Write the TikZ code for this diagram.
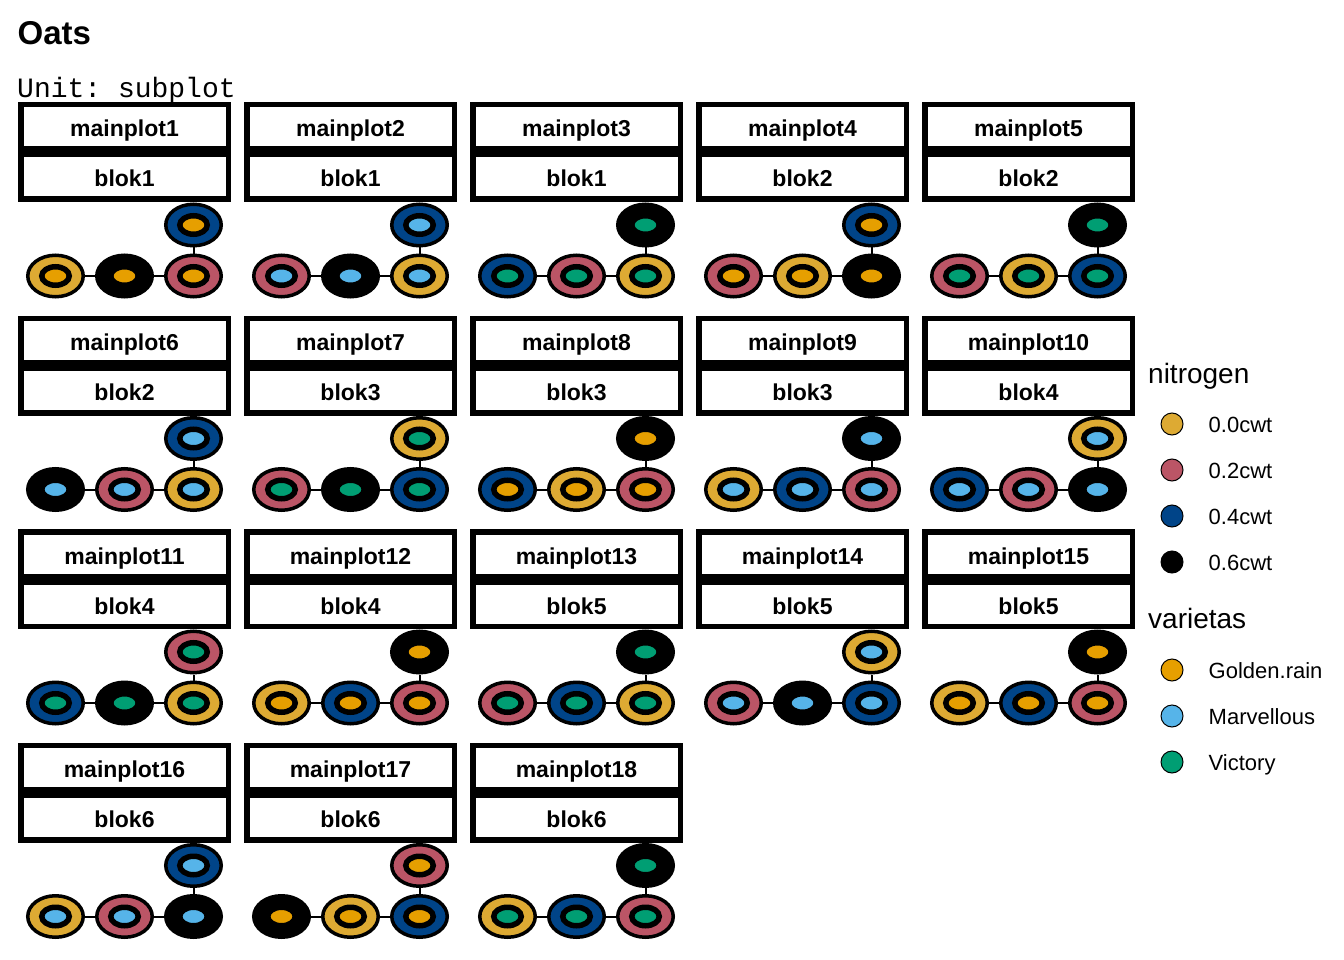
\documentclass[tikz,border=0pt]{standalone}
\usepackage{fontspec}
\setmainfont{Liberation Sans}
\setmonofont{Liberation Mono}
\usepackage{tikz}
\usetikzlibrary{positioning}
\usetikzlibrary{shapes.geometric}

\definecolor{cwt00}{HTML}{DDAA33}
\definecolor{cwt02}{HTML}{BB5566}
\definecolor{cwt04}{HTML}{004488}
\definecolor{cwt06}{HTML}{000000}
\definecolor{golden}{HTML}{E69F00}
\definecolor{marvellous}{HTML}{56B4E9}
\definecolor{victory}{HTML}{009E73}

\begin{document}
\begin{tikzpicture}[x=1pt,y=-1pt,node distance=69pt,
    strip/.style={rectangle,draw,line width=5.5pt,minimum width=207.5pt,minimum height=44.5pt,
                  inner sep=0pt,text height=20pt,text depth=0pt,font=\fontsize{23}{23}\selectfont\bfseries},
    plot node/.style={ellipse,draw,line width=3.5pt,minimum width=55.5pt,minimum height=41.5pt,inner sep=0pt},
    var node/.style={ellipse,draw,line width=5.5pt,minimum width=27.5pt,minimum height=18.5pt,inner sep=0pt},
    key node/.style={circle,draw,line width=1pt,minimum size=22pt,inner sep=0pt},
    key label/.style={inner sep=0pt,text height=16pt,text depth=0pt,font=\fontsize{22}{22}\selectfont},
    legend title/.style={anchor=base west,inner sep=0pt,font=\fontsize{28}{28}\selectfont}]

 \useasboundingbox (0,0) rectangle (1344,960);

 \node[anchor=base west,inner sep=0pt,font=\fontsize{33}{33}\selectfont\bfseries] (title) at (17.5,44.5) {Oats};
 \node[anchor=base west,inner sep=0pt,font=\fontsize{28}{28}\selectfont\ttfamily] (unit) at (17,98) {Unit: subplot};

 % panel / block / top, left, middle, right nitrogen / variety
 \foreach \i/\blok/\nT/\nL/\nM/\nR/\vr in {
    1/blok1/cwt04/cwt00/cwt06/cwt02/golden,
    2/blok1/cwt04/cwt02/cwt06/cwt00/marvellous,
    3/blok1/cwt06/cwt04/cwt02/cwt00/victory,
    4/blok2/cwt04/cwt02/cwt00/cwt06/golden,
    5/blok2/cwt06/cwt02/cwt00/cwt04/victory,
    6/blok2/cwt04/cwt06/cwt02/cwt00/marvellous,
    7/blok3/cwt00/cwt02/cwt06/cwt04/victory,
    8/blok3/cwt06/cwt04/cwt00/cwt02/golden,
    9/blok3/cwt06/cwt00/cwt04/cwt02/marvellous,
    10/blok4/cwt00/cwt04/cwt02/cwt06/marvellous,
    11/blok4/cwt02/cwt04/cwt06/cwt00/victory,
    12/blok4/cwt06/cwt00/cwt04/cwt02/golden,
    13/blok5/cwt06/cwt02/cwt04/cwt00/victory,
    14/blok5/cwt00/cwt02/cwt06/cwt04/marvellous,
    15/blok5/cwt06/cwt00/cwt04/cwt02/golden,
    16/blok6/cwt04/cwt00/cwt02/cwt06/marvellous,
    17/blok6/cwt02/cwt06/cwt00/cwt04/golden,
    18/blok6/cwt06/cwt00/cwt04/cwt02/victory} {
   \pgfmathsetmacro\px{124.5+226*mod(\i-1,5)}
   \pgfmathsetmacro\py{127+213.5*floor((\i-1)/5)}
   \node[strip] (main\i) at (\px,\py) {mainplot\i};
   \node[strip,below=0pt of main\i] (blok\i) {\blok};
   \node[plot node,fill=\nL] (l\i) at (\px-69,\py+149) {};
   \node[plot node,fill=\nM] (m\i) [right of=l\i] {};
   \node[plot node,fill=\nR] (r\i) [right of=m\i] {};
   \node[plot node,fill=\nT] (t\i) [node distance=51pt,above of=r\i] {};
   \foreach \k in {l,m,r,t}
     \node[var node,fill=\vr] (\k v\i) at (\k\i) {};
   \path[line width=2pt]
     (l\i) edge (m\i)
     (m\i) edge (r\i)
     (r\i) edge (t\i);
 }

 % legend
 \node[legend title] (nitrogen) at (1148,383) {nitrogen};
 \node[key node,fill=cwt00] (k00) at (1172,424) {};
 \node[key node,fill=cwt02] (k02) [node distance=46pt,below of=k00] {};
 \node[key node,fill=cwt04] (k04) [node distance=46pt,below of=k02] {};
 \node[key node,fill=cwt06] (k06) [node distance=46pt,below of=k04] {};
 \node[key label,right=25pt of k00] (lab00) {0.0cwt};
 \node[key label,right=25pt of k02] (lab02) {0.2cwt};
 \node[key label,right=25pt of k04] (lab04) {0.4cwt};
 \node[key label,right=25pt of k06] (lab06) {0.6cwt};

 \node[legend title] (varietas) at (1148,628) {varietas};
 \node[key node,fill=golden] (kgold) at (1172,670) {};
 \node[key node,fill=marvellous] (kmarv) [node distance=46pt,below of=kgold] {};
 \node[key node,fill=victory] (kvict) [node distance=46pt,below of=kmarv] {};
 \node[key label,right=25pt of kgold] (labgold) {Golden.rain};
 \node[key label,right=25pt of kmarv] (labmarv) {Marvellous};
 \node[key label,right=25pt of kvict] (labvict) {Victory};

\end{tikzpicture}
\end{document}
